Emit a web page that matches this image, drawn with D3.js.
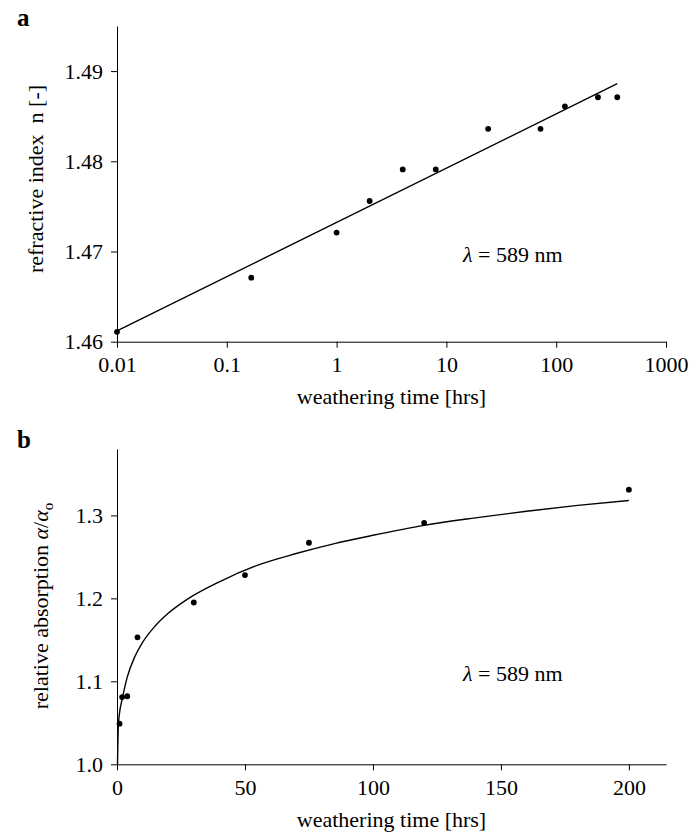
<!DOCTYPE html>
<html>
<head>
<meta charset="utf-8">
<script src="https://cdn.jsdelivr.net/npm/d3@7"></script>
<style>
  body { margin: 0; background: #fff; }
  svg text { font-family: 'Liberation Serif', 'Times New Roman', Times, 'Nimbus Roman', 'DejaVu Serif', serif; fill: #000; }
</style>
</head>
<body>
<div class="canva"></div>
<script>
// panel a: refractive index vs weathering time (log axis)
const timeA = [0.01, 0.167, 1, 2, 4, 8, 24, 72, 120, 240, 360];
const indexA = [1.4611, 1.4671, 1.4721, 1.4756, 1.4791, 1.4791, 1.4836, 1.4836, 1.4861, 1.4871, 1.4871];
const fitTimeA = [0.01, 360];
const fitIndexA = [1.4612, 1.4886];
const xTicksA = [0.01, 0.1, 1, 10, 100, 1000];
const xLabelsA = ['0.01', '0.1', '1', '10', '100', '1000'];
const yTicksA = [1.46, 1.47, 1.48, 1.49];
const yLabelsA = ['1.46', '1.47', '1.48', '1.49'];

// panel b: relative absorption vs weathering time (linear axis)
const timeB = [1, 2, 4, 8, 30, 50, 75, 120, 200];
const absB = [1.049, 1.081, 1.082, 1.153, 1.195, 1.228, 1.267, 1.291, 1.331];
const fitTimeB = [0.2, 0.5, 1, 2, 4, 7, 10, 15, 20, 28, 40, 55, 70, 85, 100, 120, 140, 160, 180, 200];
const fitAbsB = [1.0, 1.045, 1.062, 1.078, 1.105, 1.13, 1.147, 1.167, 1.182, 1.2, 1.22, 1.24, 1.254, 1.266, 1.276, 1.288, 1.297, 1.305, 1.312, 1.318];
const xTicksB = [0, 50, 100, 150, 200];
const xLabelsB = ['0', '50', '100', '150', '200'];
const yTicksB = [1.0, 1.1, 1.2, 1.3];
const yLabelsB = ['1.0', '1.1', '1.2', '1.3'];

const serif = "'Liberation Serif', 'Times New Roman', Times, 'Nimbus Roman', 'DejaVu Serif', serif";

const svg = d3.select('.canva').append('svg')
    .attr('width', 691)
    .attr('height', 834)
    .attr('font-family', serif);

const left = 117, right = 666;

function panel(opt) {
    const g = svg.append('g');

    const x = opt.x.range([left, right]);
    const y = opt.y.range([opt.bottom, opt.top]);

    const xAxis = d3.axisBottom(x)
        .tickValues(opt.xTicks)
        .tickFormat((d, i) => opt.xLabels[i])
        .tickSize(6)
        .tickSizeOuter(0)
        .tickPadding(9);

    const yAxis = d3.axisLeft(y)
        .tickValues(opt.yTicks)
        .tickFormat((d, i) => opt.yLabels[i])
        .tickSize(6)
        .tickSizeOuter(0)
        .tickPadding(8);

    const gx = g.append('g')
        .attr('transform', `translate(0,${opt.bottom})`)
        .call(xAxis);
    const gy = g.append('g')
        .attr('transform', `translate(${left},0)`)
        .call(yAxis);

    [gx, gy].forEach(a => {
        a.attr('font-family', serif).attr('font-size', 22);
        a.selectAll('path, line').attr('stroke', '#000').attr('stroke-width', 1);
        a.selectAll('text').attr('fill', '#000');
    });

    // fit line
    const fit = opt.fitX.map((d, i) => [d, opt.fitY[i]]);
    const line = d3.line()
        .x(d => x(d[0]))
        .y(d => y(d[1]))
        .curve(d3.curveMonotoneX);
    g.append('path')
        .datum(fit)
        .attr('fill', 'none')
        .attr('stroke', '#000')
        .attr('stroke-width', 1.4)
        .attr('d', line);

    // dots
    g.selectAll('circle')
        .data(opt.dataX)
        .enter().append('circle')
        .attr('cx', d => x(d))
        .attr('cy', (d, i) => y(opt.dataY[i]))
        .attr('r', 2.9)
        .attr('fill', '#000');

    // x axis title
    g.append('text')
        .attr('x', (left + right) / 2)
        .attr('y', opt.xTitleY)
        .attr('text-anchor', 'middle')
        .style('font-size', '22px')
        .text('weathering time [hrs]');

    // wavelength note
    const note = g.append('text')
        .attr('x', 463)
        .attr('y', opt.noteY)
        .style('font-size', '22px');
    note.append('tspan').style('font-style', 'italic').text('λ');
    note.append('tspan').text(' = 589 nm');

    // panel letter
    g.append('text')
        .attr('x', 17)
        .attr('y', opt.letterY)
        .style('font-size', '25px')
        .style('font-weight', 'bold')
        .text(opt.letter);

    return g;
}

const ga = panel({
    x: d3.scaleLog().domain([0.01, 1000]),
    y: d3.scaleLinear().domain([1.46, 1.495]),
    top: 26, bottom: 341.7,
    xTicks: xTicksA, xLabels: xLabelsA,
    yTicks: yTicksA, yLabels: yLabelsA,
    dataX: timeA, dataY: indexA,
    fitX: fitTimeA, fitY: fitIndexA,
    xTitleY: 404, noteY: 262,
    letter: 'a', letterY: 26
});

ga.append('text')
    .attr('transform', 'translate(43,179) rotate(-90)')
    .attr('text-anchor', 'middle')
    .style('font-size', '22px')
    .text('refractive index\u00a0 n [-]');

const gb = panel({
    x: d3.scaleLinear().domain([0, 214.5]),
    y: d3.scaleLinear().domain([1.0, 1.38]),
    top: 449, bottom: 764.3,
    xTicks: xTicksB, xLabels: xLabelsB,
    yTicks: yTicksB, yLabels: yLabelsB,
    dataX: timeB, dataY: absB,
    fitX: fitTimeB, fitY: fitAbsB,
    xTitleY: 827, noteY: 681,
    letter: 'b', letterY: 448
});

const yb = gb.append('text')
    .attr('transform', 'translate(48,606) rotate(-90)')
    .attr('text-anchor', 'middle')
    .style('font-size', '22px');
yb.append('tspan').text('relative absorption ');
yb.append('tspan').style('font-style', 'italic').text('α');
yb.append('tspan').text('/');
yb.append('tspan').style('font-style', 'italic').text('α');
yb.append('tspan').attr('dy', 5).style('font-size', '15px').text('o');
</script>
</body>
</html>
